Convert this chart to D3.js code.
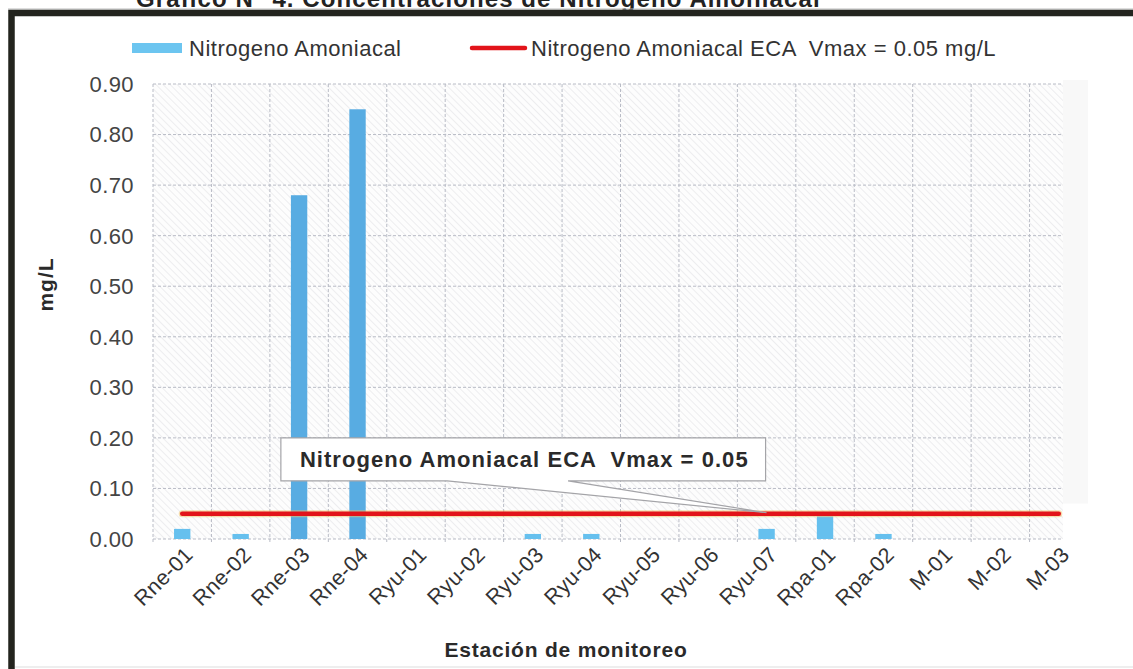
<!DOCTYPE html>
<html>

<head>
    <meta charset="utf-8">
    <style>
        body { margin: 0; background: #fff; }
        svg { display: block; font-family: "Liberation Sans", Arial, sans-serif; }
        text { white-space: pre; }
        .grid line { stroke: #b9bcc6; stroke-width: 1; stroke-dasharray: 3, 2; }
        .ytick { font-size: 22px; fill: #444; letter-spacing: 0.4px; }
        .xtick { font-size: 21.5px; fill: #333; letter-spacing: 0.3px; }
        .legend { font-size: 22px; fill: #333; letter-spacing: 0.5px; }
    </style>
</head>

<body>
    <script src="https://cdn.jsdelivr.net/npm/d3@7"></script>
    <script>
        // Data
        var categories = ["Rne-01", "Rne-02", "Rne-03", "Rne-04", "Ryu-01", "Ryu-02", "Ryu-03", "Ryu-04",
            "Ryu-05", "Ryu-06", "Ryu-07", "Rpa-01", "Rpa-02", "M-01", "M-02", "M-03"];
        var values = [0.02, 0.01, 0.68, 0.85, 0, 0, 0.01, 0.01, 0, 0, 0.02, 0.045, 0.01, 0, 0, 0];
        var ecaLimit = 0.05;
        var yTicks = [0, 0.1, 0.2, 0.3, 0.4, 0.5, 0.6, 0.7, 0.8, 0.9];

        var titleText = "Grafico N° 4. Concentraciones de Nitrogeno Amoniacal";
        var seriesName = "Nitrogeno Amoniacal";
        var ecaName = "Nitrogeno Amoniacal ECA  Vmax = 0.05 mg/L";
        var calloutText = "Nitrogeno Amoniacal ECA  Vmax = 0.05";
        var yTitle = "mg/L";
        var xTitle = "Estación de monitoreo";

        var width = 1133, height = 669;
        var margin = { top: 84, right: 45, bottom: 130, left: 153 };

        var x = d3.scaleBand().domain(categories).range([margin.left, width - margin.right]).padding(0);
        var y = d3.scaleLinear().domain([0, 0.9]).range([height - margin.bottom, margin.top]);
        var hatchRight = width - 70;

        var svg = d3.select("body").append("svg")
            .attr("width", width)
            .attr("height", height);

        var defs = svg.append("defs");
        var hatch = defs.append("pattern")
            .attr("id", "hatch")
            .attr("width", 5).attr("height", 5)
            .attr("patternUnits", "userSpaceOnUse")
            .attr("patternTransform", "rotate(-45)");
        hatch.append("rect").attr("width", 5).attr("height", 5).attr("fill", "#fdfdfd");
        hatch.append("line")
            .attr("x1", 0).attr("y1", 0).attr("x2", 0).attr("y2", 5)
            .attr("stroke", "#d6d6da").attr("stroke-width", 0.8);

        // title, partly hidden by the top edge as in the source
        svg.append("text")
            .attr("x", 136).attr("y", 7)
            .style("font-size", "24px").style("font-weight", "bold")
            .style("letter-spacing", "1.1px")
            .attr("fill", "#222")
            .text(titleText);

        // frame
        svg.append("line").attr("x1", 8).attr("x2", width).attr("y1", 9).attr("y2", 9)
            .attr("stroke", "#bbb").attr("stroke-width", 1);
        svg.append("path")
            .attr("d", "M" + 11.5 + "," + height + "V" + 13 + "H" + width)
            .attr("fill", "none").attr("stroke", "#23241e").attr("stroke-width", 6.5);
        svg.append("line").attr("x1", 15).attr("x2", width).attr("y1", height - 2).attr("y2", height - 2)
            .attr("stroke", "#ddd").attr("stroke-width", 1);

        // plot background
        svg.append("rect")
            .attr("x", hatchRight).attr("y", y(0.9) - 4)
            .attr("width", width - margin.right - hatchRight).attr("height", y(0.07) - y(0.9) + 4)
            .attr("fill", "#f8f8f8");
        svg.append("rect")
            .attr("x", margin.left).attr("y", y(0.9))
            .attr("width", hatchRight - margin.left).attr("height", y(0) - y(0.9))
            .attr("fill", "url(#hatch)");

        // grid
        var grid = svg.append("g").attr("class", "grid");
        grid.selectAll(".h").data(yTicks).enter().append("line")
            .attr("x1", margin.left).attr("x2", hatchRight)
            .attr("y1", function (d) { return y(d); })
            .attr("y2", function (d) { return y(d); });
        grid.selectAll(".v").data(categories).enter().append("line")
            .attr("x1", function (d) { return x(d); })
            .attr("x2", function (d) { return x(d); })
            .attr("y1", y(0.9)).attr("y2", y(0) + 5);

        // y tick labels
        svg.selectAll(".ytick").data(yTicks).enter().append("text")
            .attr("class", "ytick")
            .attr("x", 134)
            .attr("y", function (d) { return y(d); })
            .attr("dy", "0.36em")
            .attr("text-anchor", "end")
            .text(d3.format(".2f"));

        // x tick labels
        svg.selectAll(".xtick").data(categories).enter().append("text")
            .attr("class", "xtick")
            .attr("text-anchor", "end")
            .attr("transform", function (d) {
                return "translate(" + (x(d) + x.bandwidth() / 2 + 12) + "," + (y(0) + 17) + ") rotate(-45)";
            })
            .text(function (d) { return d; });

        // bars
        var barW = x.bandwidth() * 0.28;
        svg.selectAll(".bar").data(values).enter().append("rect")
            .attr("class", "bar")
            .attr("x", function (d, i) { return x(categories[i]) + (x.bandwidth() - barW) / 2; })
            .attr("y", function (d) { return y(d); })
            .attr("width", barW)
            .attr("height", function (d) { return y(0) - y(d); })
            .attr("fill", function (d) { return d > 0.3 ? "#58ace2" : "#66c0ee"; });

        // ECA line
        var ecaLine = d3.line()
            .x(function (d) { return x(d) + x.bandwidth() / 2; })
            .y(function () { return y(ecaLimit); });
        var ends = [categories[0], categories[categories.length - 1]];
        svg.append("path").datum(ends).attr("d", ecaLine)
            .attr("fill", "none").attr("stroke", "#f0c060").attr("stroke-width", 7)
            .attr("stroke-linecap", "round").attr("opacity", 0.5);
        svg.append("path").datum(ends).attr("d", ecaLine)
            .attr("fill", "none").attr("stroke", "#e2141a").attr("stroke-width", 4.5)
            .attr("stroke-linecap", "round");

        // callout pointing at the line near Ryu-07
        var tipX = x("Ryu-07") + x.bandwidth() / 2, tipY = y(ecaLimit) - 1;
        var boxL = x("Rne-03") + 11, boxR = tipX - 1, boxT = y(0.2), boxB = y(0.115);
        var baseA = x("Ryu-02") + 2, baseB = x("Ryu-04") + 6;
        svg.append("path")
            .attr("d", "M" + boxL + "," + boxT + "H" + boxR + "V" + boxB + "H" + baseB +
                "L" + tipX + "," + tipY + "L" + baseA + "," + boxB + "H" + boxL + "Z")
            .attr("fill", "#fff").attr("stroke", "#a4a4a8").attr("stroke-width", 1.2);
        svg.append("text")
            .attr("x", boxL + 19).attr("y", boxT + 29)
            .style("font-size", "22px").style("font-weight", "bold").style("letter-spacing", "1.05px")
            .attr("fill", "#2a2a2a")
            .text(calloutText);

        // legend
        var leg = svg.append("g");
        leg.append("rect").attr("x", 132).attr("y", 43).attr("width", 50).attr("height", 10).attr("fill", "#6cc5f0");
        leg.append("text").attr("class", "legend").attr("x", 189).attr("y", 56).text(seriesName);
        leg.append("line").attr("x1", 472).attr("x2", 525).attr("y1", 48).attr("y2", 48)
            .attr("stroke", "#e2141a").attr("stroke-width", 4.5).attr("stroke-linecap", "round");
        leg.append("text").attr("class", "legend").attr("x", 531).attr("y", 56).text(ecaName);

        // axis titles
        svg.append("text")
            .attr("transform", "translate(53," + ((y(0.9) + y(0)) / 2 - 27) + ") rotate(-90)")
            .attr("text-anchor", "middle")
            .style("font-size", "21px").style("font-weight", "bold").style("letter-spacing", "1px")
            .attr("fill", "#2a2a2a")
            .text(yTitle);
        svg.append("text")
            .attr("x", 566).attr("y", 657)
            .attr("text-anchor", "middle")
            .style("font-size", "21px").style("font-weight", "bold").style("letter-spacing", "0.8px")
            .attr("fill", "#2a2a2a")
            .text(xTitle);
    </script>
</body>

</html>
